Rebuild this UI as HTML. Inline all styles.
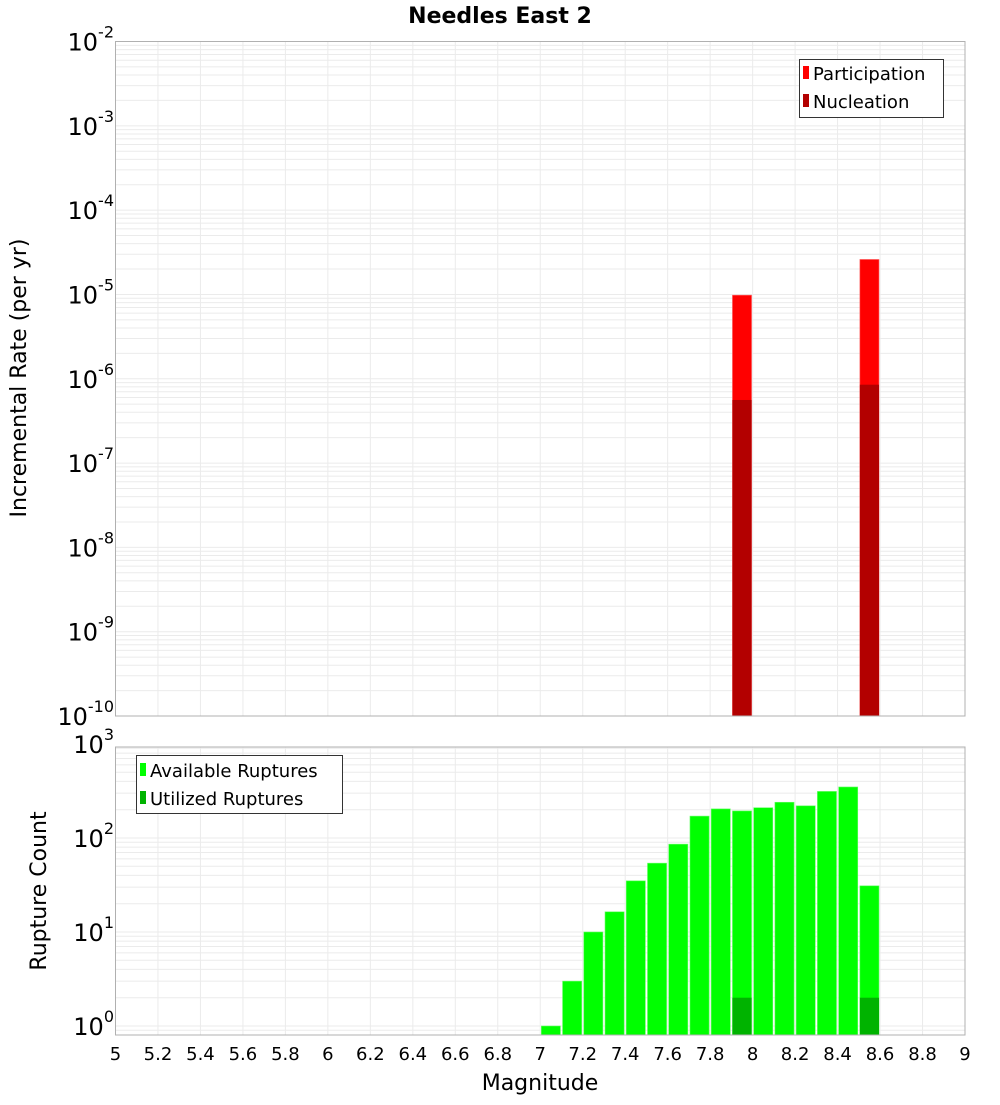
<!DOCTYPE html>
<html><head><meta charset="utf-8"><style>
body{margin:0;background:#fff;font-family:"Liberation Sans","DejaVu Sans",sans-serif}
svg text{font-family:"DejaVu Sans","Liberation Sans",sans-serif}
</style></head><body>
<svg id="c" width="1000" height="1100" xmlns="http://www.w3.org/2000/svg"></svg>
<script>
const xTicks=[5,5.2,5.4,5.6,5.8,6,6.2,6.4,6.6,6.8,7,7.2,7.4,7.6,7.8,8,8.2,8.4,8.6,8.8,9];
const topMags=[7.95,8.55];
const participation=[9.8e-6,2.6e-5];
const nucleation=[5.6e-7,8.5e-7];
const cntMags=[7.05,7.15,7.25,7.35,7.45,7.55,7.65,7.75,7.85,7.95,8.05,8.15,8.25,8.35,8.45,8.55];
const available=[1,3,10,16.4,35,54,86,171,204,194,210,240,220,313,349,31];
const utilMags=[7.95,8.55];
const utilized=[2,2];
const topExp=[-2,-3,-4,-5,-6,-7,-8,-9,-10];
const botExp=[3,2,1,0];

const NS="http://www.w3.org/2000/svg",svg=document.getElementById('c');
function el(t,a,p){const e=document.createElementNS(NS,t);for(const k in a)e.setAttribute(k,a[k]);(p||svg).appendChild(e);return e;}
const L=115.5,R=965;
const x=m=>L+(m-5)/4*(R-L);
const T1=41.5,B1=716;
const yTop=v=>T1+(-2-Math.log10(v))*(B1-T1)/8;
const T2=747,B2=1035;
const yBot=v=>1026-Math.log10(v)*94;

// gridlines
const g=el('g',{});

xTicks.forEach(t=>{
  el('line',{x1:x(t),x2:x(t),y1:T1,y2:B1,stroke:'#ebebeb'},g);
  el('line',{x1:x(t),x2:x(t),y1:T2,y2:B2,stroke:'#ebebeb'},g);
});
for(let e=-10;e<-2;e++)for(let k=1;k<10;k++){const y=yTop(k*Math.pow(10,e));if(y>=T1&&y<=B1)el('line',{x1:L,x2:R,y1:y,y2:y,stroke:'#ebebeb'},g);}
for(let e=-1;e<3;e++)for(let k=1;k<10;k++){const y=yBot(k*Math.pow(10,e));if(y>=T2&&y<=B2)el('line',{x1:L,x2:R,y1:y,y2:y,stroke:'#ebebeb'},g);}

// bars top
const bw=0.09*(R-L)/4;
topMags.forEach((m,i)=>{
  let r=el('rect',{x:x(m)-bw/2,y:yTop(participation[i]),width:bw,height:B1-yTop(participation[i]),fill:'#ff0000',stroke:'#ff6666','stroke-width':0.6});
  
  r=el('rect',{x:x(m)-bw/2,y:yTop(nucleation[i]),width:bw,height:B1-yTop(nucleation[i]),fill:'#b30000'});
  
});
cntMags.forEach((m,i)=>{
  const y=yBot(available[i]);
  const r=el('rect',{x:x(m)-bw/2,y:y,width:bw,height:B2-y,fill:'#00ff00',stroke:'#66ff66','stroke-width':0.6});
  
});
utilMags.forEach((m,i)=>{
  const y=yBot(utilized[i]);
  const r=el('rect',{x:x(m)-bw/2,y:y,width:bw,height:B2-y,fill:'#00b300'});
  
});

// frames
el('rect',{x:L,y:T1,width:R-L,height:B1-T1,fill:'none',stroke:'#b0b0b0'});
el('rect',{x:L,y:T2,width:R-L,height:B2-T2,fill:'none',stroke:'#b0b0b0'});

// y tick labels
function ylab(y,e,name){
  const t=el('text',{x:114,y:y+9,'text-anchor':'end','font-size':24,fill:'#000'});
  
  const a=el('tspan',{},t);a.textContent='10';
  const b=el('tspan',{'font-size':16,dy:-13},t);b.textContent=String(e);
}
topExp.forEach(e=>ylab(yTop(Math.pow(10,e)),e,'top-y-tick-label'));
botExp.forEach(e=>ylab(yBot(Math.pow(10,e)),e,'bottom-y-tick-label'));
// x tick labels
xTicks.forEach(t=>{
  const s=el('text',{x:x(t),y:1060,'text-anchor':'middle','font-size':18,fill:'#000'});
  
  s.textContent=String(t);
});
</script>
<svg style="position:absolute;left:0;top:0" width="1000" height="1100" xmlns="http://www.w3.org/2000/svg">
<text x="500" y="23" text-anchor="middle" font-size="22" font-weight="bold" font-family="DejaVu Sans, sans-serif">Needles East 2</text>
<text transform="translate(26,378) rotate(-90)" text-anchor="middle" font-size="22" font-family="DejaVu Sans, sans-serif">Incremental Rate (per yr)</text>
<text transform="translate(46,891) rotate(-90)" text-anchor="middle" font-size="22" font-family="DejaVu Sans, sans-serif">Rupture Count</text>
<text x="540" y="1090" text-anchor="middle" font-size="22" font-family="DejaVu Sans, sans-serif">Magnitude</text>
<g font-family="DejaVu Sans, sans-serif" font-size="18">
<rect x="799.5" y="59.5" width="144" height="58" fill="#fff" stroke="#333"/>
<rect x="803" y="66" width="6" height="13" fill="#ff0000"/>
<text x="813" y="80">Participation</text>
<rect x="803" y="94" width="6" height="13" fill="#b30000"/>
<text x="813" y="108">Nucleation</text>
</g>
<g font-family="DejaVu Sans, sans-serif" font-size="18">
<rect x="136.5" y="755.5" width="206" height="58" fill="#fff" stroke="#333"/>
<rect x="140" y="763" width="6" height="13" fill="#00ff00"/>
<text x="150" y="777">Available Ruptures</text>
<rect x="140" y="791" width="6" height="13" fill="#00b300"/>
<text x="150" y="805">Utilized Ruptures</text>
</g>
</svg>
</body></html>
